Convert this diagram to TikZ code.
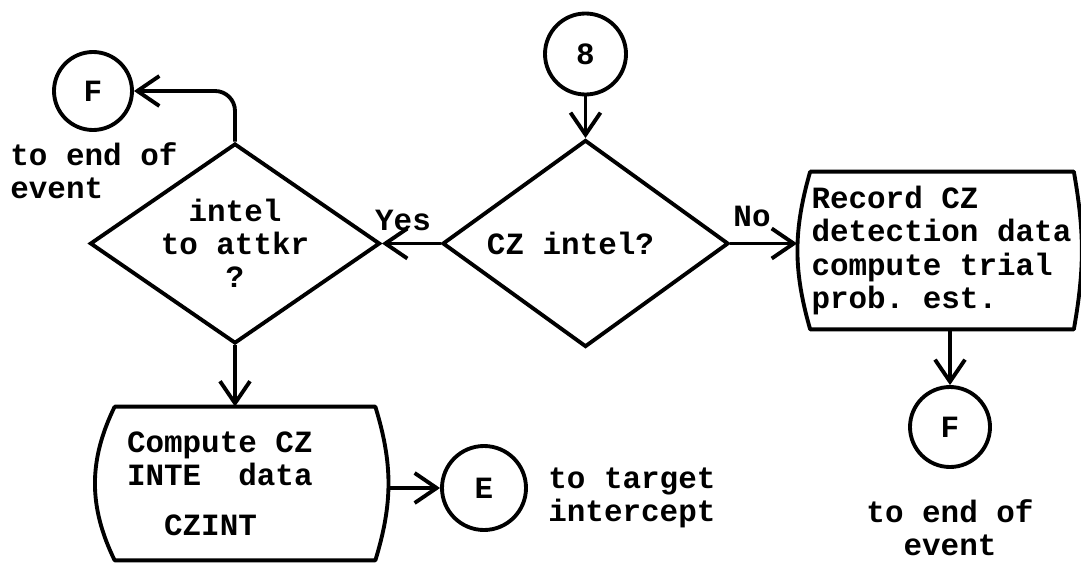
\documentclass[tikz,border=0pt]{standalone}
\usepackage{fontspec}
\setmonofont{Liberation Mono}
\usepackage{tikz}
\usetikzlibrary{arrows.meta,positioning,shapes.geometric}
\newcommand{\chartfont}{\ttfamily\bfseries\fontsize{17.6}{18.8}\selectfont\frenchspacing}
% outline of a process box: straight top and bottom, bowed sides
\newcommand{\curvedbox}[3]{%
  \draw[outline] (#1.north west) -- (#1.north east) to[bend left=#3] (#1.south east)
    -- (#1.south west) to[bend left=#2] (#1.north west);}
\tikzset{
  outline/.style={line width=2.2pt,line join=round,line cap=round},
  connector/.style={circle,draw,line width=2.2pt,inner sep=0pt,font=\chartfont},
  decision/.style={diamond,draw,line width=2.2pt,inner sep=0pt,align=flush center,font=\chartfont},
  process/.style={inner ysep=0pt,align=flush left,font=\chartfont},
  note/.style={inner sep=0pt,align=flush left,font=\chartfont},
  flowarrow/.style={-{Straight Barb[length=0.44cm,width=0.6cm]},line width=2.2pt}
}

\begin{document}
\begin{tikzpicture}
  \useasboundingbox (0,0) rectangle (21.62,-11.26);

  % decisions
  \node[connector,minimum size=1.62cm] (n8) at (11.71,-1.08) {8};
  \node[decision,aspect=1.38,minimum width=5.72cm,minimum height=4.14cm] (dB) at (11.71,-4.87)
    {CZ intel?\hspace*{0.6cm}};
  \node[decision,aspect=1.45,minimum width=5.8cm,minimum height=4cm] (dA) at (4.70,-4.87)
    {intel\\to attkr\\?};
  \node[note] (yes) at (8.06,-4.40) {Yes};
  \node[note] (no) at (15.04,-4.32) {No};

  % processes
  \node[process,text width=5.22cm,inner xsep=0.02cm,minimum height=3.14cm] (rec) at (18.84,-5.01)
    {Record CZ\\detection data\\compute trial\\prob. est.};
  \curvedbox{rec}{16}{10}
  \node[process,text width=4.72cm,inner xsep=0.24cm,minimum height=3.06cm] (cmp) at (4.90,-9.67)
    {Compute CZ\\INTE\ \ data\\[0.34cm]\phantom{xx}CZINT};
  \curvedbox{cmp}{26}{17}

  % off-page connectors
  \node[connector,minimum size=1.56cm] (fL) at (1.86,-1.82) {F};
  \node[note,anchor=west] (endL) at (0.2,-3.42) {to end of\\event};
  \node[connector,minimum size=1.68cm] (e) at (9.68,-9.76) {E};
  \node[note,anchor=west] (tgt) at (10.96,-9.95) {to target\\intercept};
  \node[connector,minimum size=1.6cm] (fR) at (19.0,-8.54) {F};
  \node[note,align=flush center] (endR) at (19.0,-10.56) {to end of\\event};

  % flow
  \draw[flowarrow] (n8) -- (dB);
  \draw[flowarrow] (dB.west) -- (dA.east);
  \draw[flowarrow,shorten >=0.26cm] (dB.east) -- (dB.east -| rec.west);
  \draw[flowarrow,rounded corners=0.4cm] (dA.north) |- (fL);
  \draw[flowarrow] (dA.south) -- (dA.south |- cmp.north);
  \draw[flowarrow,shorten <=0.26cm] (cmp.east |- e) -- (e);
  \draw[flowarrow] (rec.south -| fR) -- (fR);
\end{tikzpicture}
\end{document}
